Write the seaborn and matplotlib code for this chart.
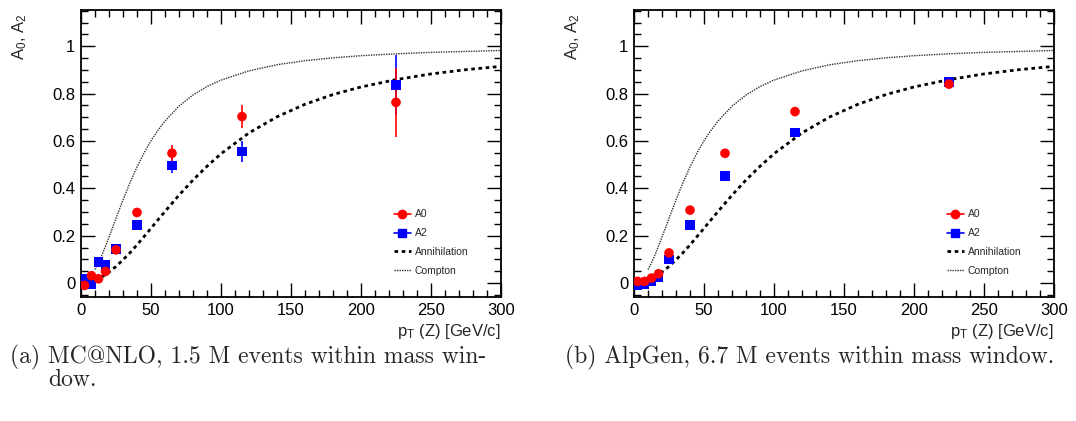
"""A0 / A2 angular coefficients vs pT(Z): MC@NLO and AlpGen panels."""

import matplotlib

matplotlib.use("Agg")

import matplotlib.pyplot as plt
import numpy as np
import pandas as pd
import seaborn as sns
from matplotlib.lines import Line2D
from matplotlib.ticker import FuncFormatter, MultipleLocator

sns.set_style("ticks")
plt.rcParams["font.family"] = ["Liberation Sans", "DejaVu Sans"]
plt.rcParams["mathtext.fontset"] = "custom"
plt.rcParams["mathtext.rm"] = "Liberation Sans"
plt.rcParams["mathtext.it"] = "Liberation Sans"

# --- data ---
pt_bins = [2.5, 7.5, 12.5, 17.5, 25, 40, 65, 115, 225]

mcnlo_a0 = [-0.01, 0.031, 0.018, 0.049, 0.14, 0.298, 0.548, 0.703, 0.763]
mcnlo_a0_err = [0.008, 0.008, 0.008, 0.008, 0.01, 0.015, 0.033, 0.05, 0.145]
mcnlo_a2 = [0.018, -0.007, 0.09, 0.076, 0.143, 0.246, 0.496, 0.555, 0.837]
mcnlo_a2_err = [0.008, 0.008, 0.008, 0.008, 0.01, 0.012, 0.03, 0.045, 0.127]

alpgen_a0 = [0.007, 0.007, 0.021, 0.039, 0.127, 0.308, 0.548, 0.724, 0.84]
alpgen_a0_err = [0.003, 0.003, 0.003, 0.004, 0.005, 0.006, 0.006, 0.008, 0.022]
alpgen_a2 = [-0.008, -0.004, 0.006, 0.025, 0.099, 0.246, 0.453, 0.635, 0.848]
alpgen_a2_err = [0.003, 0.003, 0.003, 0.004, 0.005, 0.006, 0.006, 0.008, 0.02]

curve_pt = [10, 12.5, 15, 17.5, 20, 25, 30, 35, 40, 45, 50, 55, 60, 70, 80, 90,
            100, 120, 140, 160, 180, 200, 225, 250, 275, 300]
annihilation = [0.012, 0.018, 0.026, 0.036, 0.046, 0.070, 0.098, 0.128, 0.161,
                0.196, 0.231, 0.267, 0.302, 0.371, 0.435, 0.493, 0.546, 0.634,
                0.702, 0.755, 0.796, 0.828, 0.859, 0.883, 0.901, 0.915]
compton = [0.057, 0.086, 0.119, 0.156, 0.194, 0.273, 0.351, 0.424, 0.490,
           0.549, 0.601, 0.645, 0.684, 0.747, 0.794, 0.830, 0.857, 0.896,
           0.922, 0.939, 0.951, 0.960, 0.968, 0.974, 0.978, 0.982]

captions = [
    "(a) MC@NLO, 1.5 M events within mass win-",
    "(b) AlpGen, 6.7 M events within mass window.",
]

RED = "#ff0000"
BLUE = "#0000ff"

curves = pd.DataFrame({"pt": curve_pt, "ann": annihilation, "comp": compton})


def draw_panel(ax, a0, a0_err, a2, a2_err):
    sns.lineplot(data=curves, x="pt", y="comp", ax=ax, color="#333333",
                 linewidth=1.0, linestyle=(0, (1, 0.8)))
    sns.lineplot(data=curves, x="pt", y="ann", ax=ax, color="black",
                 linewidth=2.0, linestyle=(0, (1.3, 1.3)))

    ax.errorbar(pt_bins, a2, yerr=a2_err, fmt="none", ecolor=BLUE, elinewidth=1.2)
    sns.scatterplot(x=pt_bins, y=a2, ax=ax, marker="s", s=48, color=BLUE,
                    edgecolor="none", zorder=3)
    ax.errorbar(pt_bins, a0, yerr=a0_err, fmt="none", ecolor=RED, elinewidth=1.2)
    sns.scatterplot(x=pt_bins, y=a0, ax=ax, marker="o", s=48, color=RED,
                    edgecolor="none", zorder=4)

    ax.set_xlim(0, 300)
    ax.set_ylim(-0.059, 1.153)
    ax.xaxis.set_major_locator(MultipleLocator(50))
    ax.xaxis.set_minor_locator(MultipleLocator(10))
    ax.yaxis.set_major_locator(MultipleLocator(0.2))
    ax.yaxis.set_minor_locator(MultipleLocator(0.05))
    ax.yaxis.set_major_formatter(FuncFormatter(lambda v, _: f"{v:g}" if abs(v) > 1e-9 else "0"))
    ax.tick_params(which="both", direction="in", top=True, right=True,
                   labelsize=12, width=1.0, color="black", labelcolor="black")
    ax.tick_params(which="major", length=10, pad=4)
    ax.tick_params(which="minor", length=5)
    for sp in ax.spines.values():
        sp.set_linewidth(1.3)
        sp.set_color("black")
        sp.set_visible(True)

    ax.set_xlabel("p$_{\\mathrm{T}}$ (Z) [GeV/c]", loc="right", fontsize=12, labelpad=3)
    ax.set_ylabel("")

    handles = [
        Line2D([], [], color=RED, marker="o", markersize=6, linewidth=1.2),
        Line2D([], [], color=BLUE, marker="s", markersize=6, linewidth=1.2),
        Line2D([], [], color="black", linewidth=2.0, linestyle=(0, (1.3, 1.3))),
        Line2D([], [], color="#333333", linewidth=1.0, linestyle=(0, (1, 0.8))),
    ]
    ax.legend(handles, ["A0", "A2", "Annihilation", "Compton"],
              loc="upper left", bbox_to_anchor=(0.735, 0.32), frameon=False,
              fontsize=7.5, handlelength=1.6, handletextpad=0.4, labelspacing=0.85,
              borderaxespad=0)


fig = plt.figure(figsize=(10.76, 4.21), dpi=100)
ax1 = fig.add_axes([81 / 1076, 124 / 421, 420 / 1076, 287 / 421])
ax2 = fig.add_axes([634 / 1076, 124 / 421, 420 / 1076, 287 / 421])

draw_panel(ax1, mcnlo_a0, mcnlo_a0_err, mcnlo_a2, mcnlo_a2_err)
draw_panel(ax2, alpgen_a0, alpgen_a0_err, alpgen_a2, alpgen_a2_err)

for x in (20 / 1076, 573 / 1076):
    fig.text(x, 0.968, "A$_{0}$, A$_{2}$", rotation=90, ha="center", va="top", fontsize=12)

cap_font = dict(family=["cmr10", "DejaVu Serif"], fontsize=17, va="center", ha="left")
fig.text(10 / 1076, 1 - 357 / 421, captions[0], **cap_font)
fig.text(48 / 1076, 1 - 380 / 421, "dow.", **cap_font)
fig.text(565 / 1076, 1 - 357 / 421, captions[1], **cap_font)

fig.savefig("out.png", dpi=100)
